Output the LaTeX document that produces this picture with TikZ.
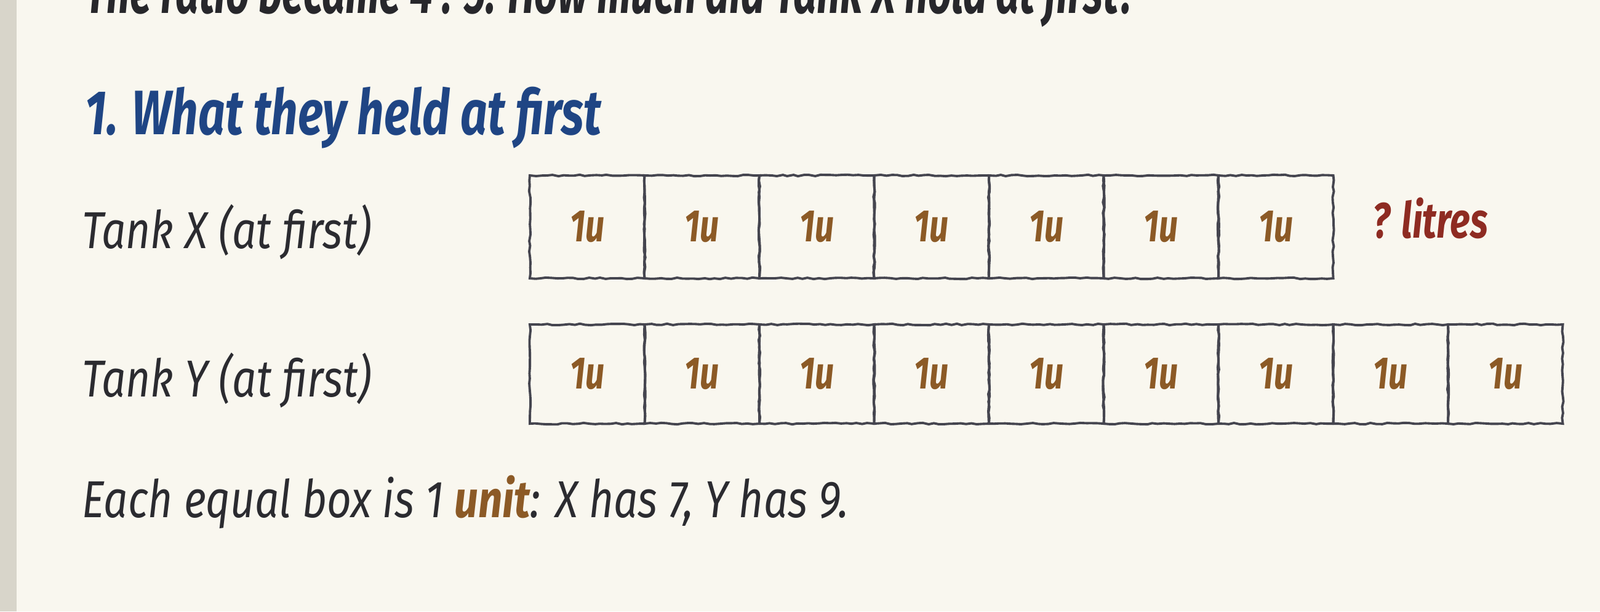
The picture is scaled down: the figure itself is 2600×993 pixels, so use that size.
\documentclass[tikz,border=0pt]{standalone}
\usepackage{fontspec}
\usetikzlibrary{decorations.pathmorphing}
\newfontfamily\handfont{Fira Sans}[FakeStretch=0.82]
\newfontfamily\handfontfett{Fira Sans}[FakeStretch=0.75]
\newfontfamily\handfontfrage{Fira Sans}[FakeStretch=0.65]

\definecolor{papier}{HTML}{F9F7EF}
\definecolor{rand}{HTML}{D8D5CA}
\definecolor{tinte}{HTML}{2B2B30}
\definecolor{titelblau}{HTML}{1F4584}
\definecolor{einheitbraun}{HTML}{8C5A26}
\definecolor{fragerot}{HTML}{8E2B22}
\definecolor{linie}{HTML}{45454F}

\tikzset{
  schrift/.style={inner sep=0pt, anchor=base west, font=\handfont\itshape\fontsize{24}{28}\selectfont, text=tinte},
  kasten/.style={draw=linie, line width=1.1pt, minimum width=1.865cm, inner sep=0pt,
    decorate, decoration={random steps, segment length=2.5pt, amplitude=0.35pt},
    font=\handfontfett\itshape\bfseries\fontsize{21}{24}\selectfont, text=einheitbraun},
  kastenx/.style={kasten, minimum height=1.67cm},
  kasteny/.style={kasten, minimum height=1.61cm},
}

\begin{document}
\begin{tikzpicture}[x=0.01cm, y=-0.01cm]
    % Hintergrund
    \useasboundingbox (0,0) rectangle (2600,993);
    \clip (0,0) rectangle (2600,993);
    \fill[papier] (0,0) rectangle (2600,993);
    \fill[rand] (0,0) rectangle (27,993);

    % Texte links
    \node[schrift, text=tinte!90!black, font=\handfontfrage\itshape\bfseries\fontsize{29}{34}\selectfont] (frage) at (138,21)
      {The ratio became 4 : 5. How much did Tank X hold at first?};
    \node[schrift, text=titelblau, font=\handfontfett\itshape\bfseries\fontsize{29}{34}\selectfont] (titel) at (138,218)
      {1. What they held at first};
    \node[schrift] (labelx) at (133,403) {Tank X (at first)};
    \node[schrift] (labely) at (133,644) {Tank Y (at first)};

    % Kästen für Tank X
    \node[kastenx] (x1) at (954.25,368.5) {1u};
    \node[kastenx] (x2) at (1140.75,368.5) {1u};
    \node[kastenx] (x3) at (1327.25,368.5) {1u};
    \node[kastenx] (x4) at (1513.75,368.5) {1u};
    \node[kastenx] (x5) at (1700.25,368.5) {1u};
    \node[kastenx] (x6) at (1886.75,368.5) {1u};
    \node[kastenx] (x7) at (2073.25,368.5) {1u};

    \node[schrift, text=fragerot, font=\handfontfett\itshape\bfseries\fontsize{23}{26}\selectfont] (liter) at (2230,386) {? litres};

    % Kästen für Tank Y
    \node[kasteny] (y1) at (954.25,607.5) {1u};
    \node[kasteny] (y2) at (1140.75,607.5) {1u};
    \node[kasteny] (y3) at (1327.25,607.5) {1u};
    \node[kasteny] (y4) at (1513.75,607.5) {1u};
    \node[kasteny] (y5) at (1700.25,607.5) {1u};
    \node[kasteny] (y6) at (1886.75,607.5) {1u};
    \node[kasteny] (y7) at (2073.25,607.5) {1u};
    \node[kasteny] (y8) at (2259.75,607.5) {1u};
    \node[kasteny] (y9) at (2446.25,607.5) {1u};

    % Erklärung unten
    \node[schrift] (erklaerung) at (133,840)
      {Each equal box is 1 {\bfseries\color{einheitbraun}unit}: X has 7, Y has 9.};
\end{tikzpicture}
\end{document}
